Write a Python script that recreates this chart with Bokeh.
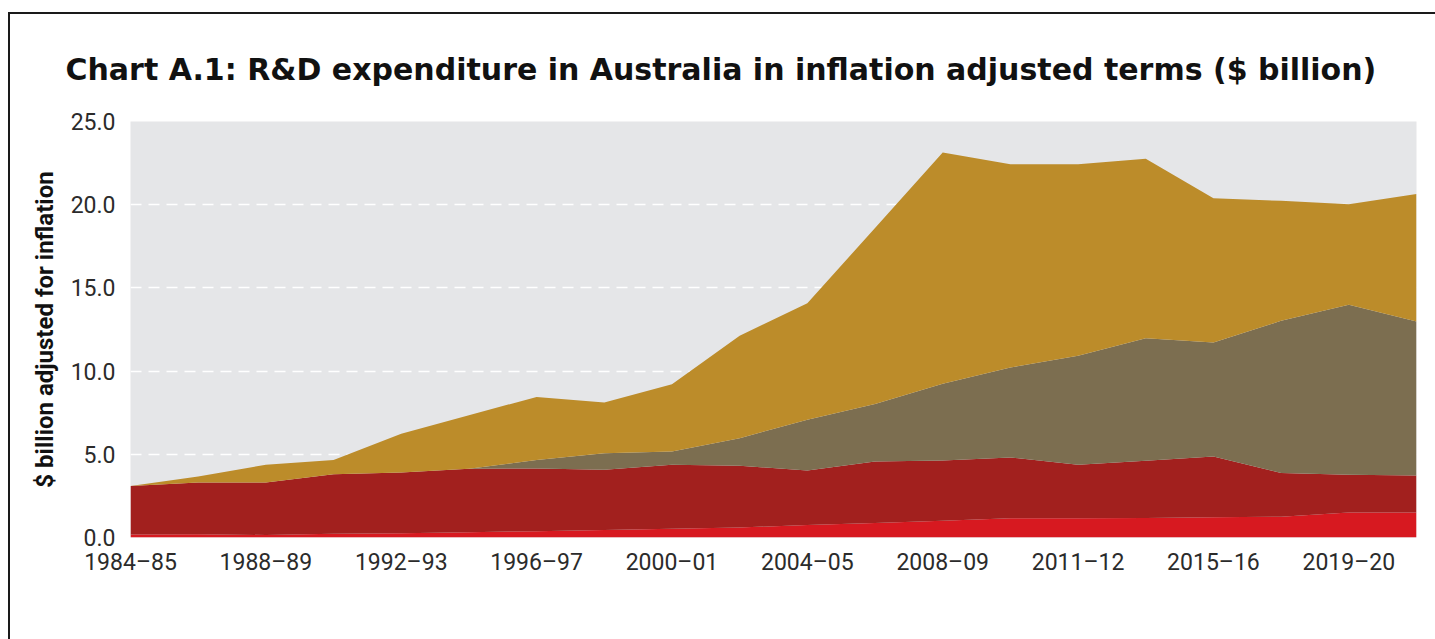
from bokeh.plotting import figure
from bokeh.models import (ColumnDataSource, Range1d, FixedTicker, PrintfTickFormatter,
                          Legend, LegendItem, Title)
from bokeh.embed import file_html
from bokeh.resources import INLINE

# ---------------- data ----------------
years = ["1984–85", "1986–87", "1988–89", "1990–91", "1992–93", "1994–95",
         "1996–97", "1998–99", "2000–01", "2002–03", "2004–05", "2006–07",
         "2008–09", "2010–11", "2011–12", "2013–14", "2015–16", "2017–18",
         "2019–20", "2021–22"]
private_nonprofit = [0.18, 0.20, 0.15, 0.22, 0.25, 0.32, 0.38, 0.45, 0.52, 0.60,
                     0.75, 0.87, 1.00, 1.15, 1.15, 1.17, 1.22, 1.25, 1.50, 1.50]
government = [2.92, 3.10, 3.15, 3.58, 3.65, 3.81, 3.77, 3.62, 3.85, 3.71,
              3.28, 3.70, 3.63, 3.66, 3.22, 3.44, 3.65, 2.62, 2.27, 2.23]
higher_education = [0.00, 0.00, 0.00, 0.00, 0.00, 0.00, 0.50, 1.00, 0.80, 1.66,
                    3.04, 3.46, 4.61, 5.41, 6.55, 7.37, 6.85, 9.15, 10.21, 9.25]
business = [0.00, 0.37, 1.07, 0.85, 2.33, 3.22, 3.80, 3.04, 4.04, 6.15,
            7.01, 10.57, 13.90, 12.21, 11.51, 10.78, 8.67, 7.21, 6.05, 7.67]

series_labels = ["Private non-profit", "Government", "Higher education", "Business"]
series_colors = ["#D71920", "#A2201E", "#7C6E50", "#BC8C2A"]
y_ticks = [0, 5, 10, 15, 20, 25]
label_step = 2

title_text = "Chart A.1: R&D expenditure in Australia in inflation adjusted terms ($ billion)"
y_label = "$ billion adjusted for inflation"

# ---------------- figure ----------------
xs = list(range(len(years)))
source = ColumnDataSource(dict(x=xs, pnp=private_nonprofit, gov=government,
                               he=higher_education, bus=business))

p = figure(frame_width=1286, frame_height=416, output_backend="svg", toolbar_location=None,
           x_range=Range1d(xs[0], xs[-1]), y_range=Range1d(y_ticks[0], y_ticks[-1]),
           min_border_left=120, min_border_right=19, min_border_top=106,
           min_border_bottom=0,
           background_fill_color="#E5E6E8", border_fill_color="white",
           outline_line_color=None)
p.styles = {"margin-top": "12px", "margin-left": "8px",
            "border-top": "2px solid #1a1a1a", "border-left": "2px solid #1a1a1a"}

renderers = p.varea_stack(["pnp", "gov", "he", "bus"], x="x", color=series_colors,
                          source=source)

# axes
tick_idx = xs[::label_step]
p.xaxis.ticker = FixedTicker(ticks=tick_idx)
p.xaxis.major_label_overrides = {i: years[i] for i in tick_idx}
p.yaxis.ticker = FixedTicker(ticks=y_ticks)
p.yaxis.formatter = PrintfTickFormatter(format="%.1f")
for ax in (p.xaxis[0], p.yaxis[0]):
    ax.axis_line_color = None
    ax.major_tick_line_color = None
    ax.minor_tick_line_color = None
    ax.major_tick_out = 0
    ax.major_tick_in = 0
    ax.minor_tick_out = 0
    ax.major_label_text_font = "Roboto"
    ax.major_label_text_font_size = "23px"
    ax.major_label_text_color = "#2b2b2b"
p.xaxis.major_label_standoff = 11
p.yaxis.major_label_standoff = 15
p.yaxis.axis_label = y_label
p.yaxis.axis_label_text_font = "Roboto"
p.yaxis.axis_label_text_font_style = "bold"
p.yaxis.axis_label_text_font_size = "24px"
p.yaxis.axis_label_text_color = "#111111"
p.yaxis.axis_label_standoff = 9

p.xgrid.visible = False
p.ygrid.ticker = FixedTicker(ticks=y_ticks[1:-1])
p.ygrid.grid_line_color = "white"
p.ygrid.grid_line_dash = "11 7"
p.ygrid.grid_line_width = 1.5

# legend below the axis
order = [3, 2, 1, 0]
legend = Legend(items=[LegendItem(label=series_labels[i], renderers=[renderers[i]]) for i in order],
                orientation="horizontal", location="top_center",
                label_text_font="Roboto", label_text_font_size="22px",
                label_text_color="#222222",
                glyph_width=15, glyph_height=15, label_standoff=12, spacing=45,
                border_line_color=None, background_fill_alpha=0,
                padding=0, margin=17)
p.add_layout(legend, "below")

# title
title = Title(text=title_text, align="left", offset=-65, standoff=70,
              text_font="DejaVu Sans", text_font_style="bold",
              text_font_size="30px", text_color="#111111")
p.add_layout(title, "above")

open("out.html", "w").write(file_html(p, INLINE))
